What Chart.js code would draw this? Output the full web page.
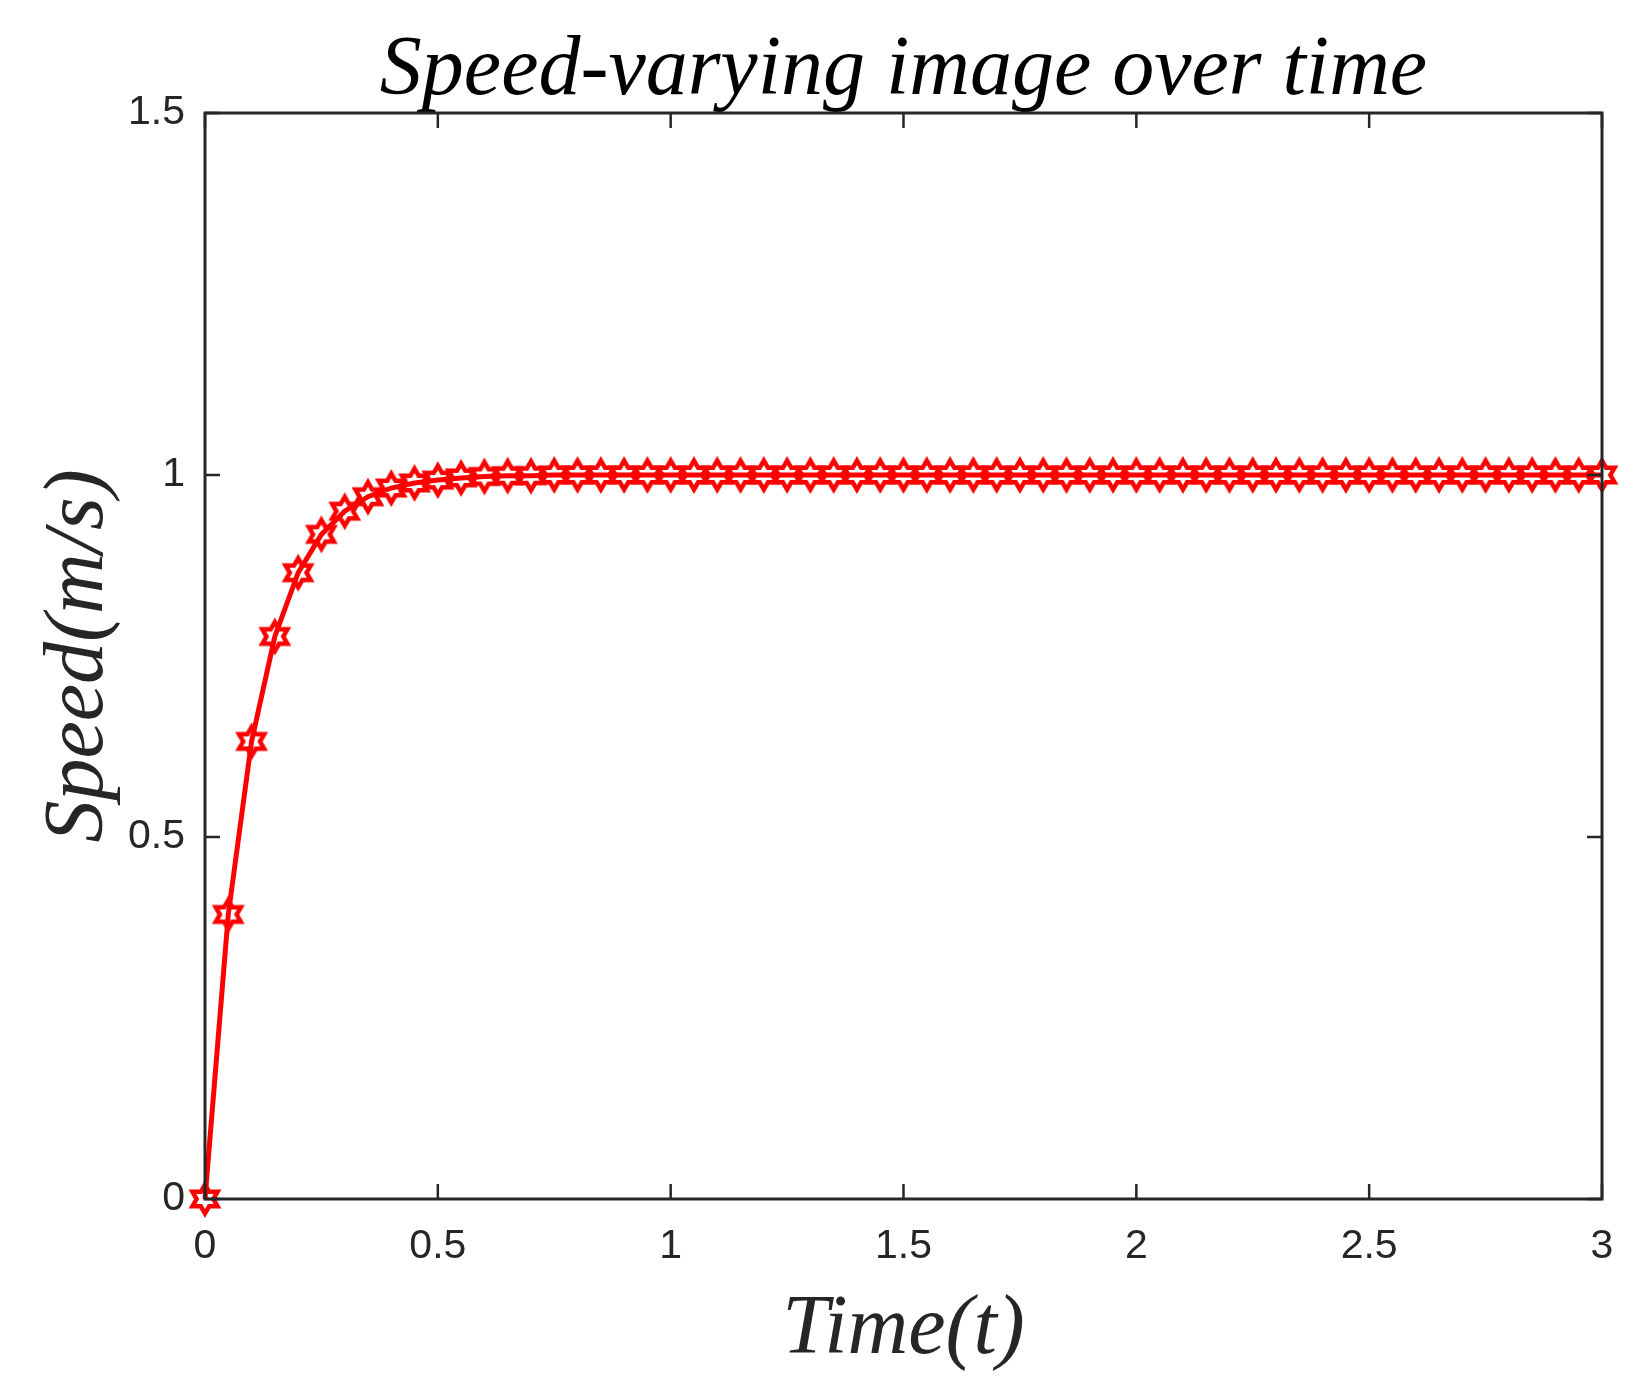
<!DOCTYPE html>
<html>
<head>
<meta charset="utf-8">
<title>Speed-varying image over time</title>
<script src="https://cdn.jsdelivr.net/npm/chart.js@4/dist/chart.umd.min.js"></script>
<style>
  html, body { margin: 0; padding: 0; background: #ffffff; }
  #chart { display: block; }
</style>
</head>
<body>
<canvas id="chart" width="1650" height="1392"></canvas>
<script>
const timeValues = [
  0, 0.05, 0.1, 0.15, 0.2, 0.25, 0.3, 0.35, 0.4, 0.45,
  0.5, 0.55, 0.6, 0.65, 0.7, 0.75, 0.8, 0.85, 0.9, 0.95,
  1, 1.05, 1.1, 1.15, 1.2, 1.25, 1.3, 1.35, 1.4, 1.45,
  1.5, 1.55, 1.6, 1.65, 1.7, 1.75, 1.8, 1.85, 1.9, 1.95,
  2, 2.05, 2.1, 2.15, 2.2, 2.25, 2.3, 2.35, 2.4, 2.45,
  2.5, 2.55, 2.6, 2.65, 2.7, 2.75, 2.8, 2.85, 2.9, 2.95,
  3
];
const speedValues = [
  0, 0.393, 0.632, 0.777, 0.865, 0.918, 0.950, 0.970, 0.982, 0.989,
  0.993, 0.996, 0.998, 0.999, 0.999, 1, 1, 1, 1, 1,
  1, 1, 1, 1, 1, 1, 1, 1, 1, 1,
  1, 1, 1, 1, 1, 1, 1, 1, 1, 1,
  1, 1, 1, 1, 1, 1, 1, 1, 1, 1,
  1, 1, 1, 1, 1, 1, 1, 1, 1, 1,
  1
];

// Axis ticks and their labels
const xTickValues = [0, 0.5, 1, 1.5, 2, 2.5, 3];
const xTickLabels = ['0', '0.5', '1', '1.5', '2', '2.5', '3'];
const yTickValues = [0, 0.5, 1, 1.5];
const yTickLabels = ['0', '0.5', '1', '1.5'];

// Text
const chartTitle = 'Speed-varying image over time';
const xAxisTitle = 'Time(t)';
const yAxisTitle = 'Speed(m/s)';

const axisColor = '#262626';
const lineColor = '#ff0000';
const tickFont = { family: '"Liberation Sans", Arial, Helvetica, sans-serif', size: 41, lineHeight: 1.2 };
const titleFont = { family: '"Liberation Serif", "Times New Roman", serif', size: 84, style: 'italic', lineHeight: 1 };

// Hexagram marker, drawn once and handed to Chart.js as a point style
function makeHexagram() {
  const c = document.createElement('canvas');
  c.width = 48;
  c.height = 48;
  const g = c.getContext('2d');
  const R = 14.5; // outer radius
  const r = R / Math.sqrt(3); // inner radius
  g.beginPath();
  for (let i = 0; i < 12; i++) {
    const ang = -Math.PI / 2 + i * Math.PI / 6;
    const rad = i % 2 === 0 ? R : r;
    const px = 24 + rad * Math.cos(ang);
    const py = 24 + rad * Math.sin(ang);
    if (i === 0) g.moveTo(px, py); else g.lineTo(px, py);
  }
  g.closePath();
  g.strokeStyle = lineColor;
  g.lineWidth = 4.5;
  g.lineJoin = 'miter';
  g.miterLimit = 10;
  g.stroke();
  return c;
}
const hexagram = makeHexagram();

// Box around the plot with inward ticks on all four sides (MATLAB style)
const boxPlugin = {
  id: 'boxPlugin',
  afterDatasetsDraw(chart) {
    const { ctx, chartArea: a, scales } = chart;
    const x = scales.x;
    const y = scales.y;
    const tickLen = 15;
    ctx.save();
    ctx.strokeStyle = axisColor;
    ctx.lineWidth = 3;
    ctx.strokeRect(a.left, a.top, a.right - a.left, a.bottom - a.top);
    ctx.lineWidth = 2.5;
    ctx.beginPath();
    xTickValues.forEach(v => {
      const px = x.getPixelForValue(v);
      ctx.moveTo(px, a.bottom);
      ctx.lineTo(px, a.bottom - tickLen);
      ctx.moveTo(px, a.top);
      ctx.lineTo(px, a.top + tickLen);
    });
    yTickValues.forEach(v => {
      const py = y.getPixelForValue(v);
      ctx.moveTo(a.left, py);
      ctx.lineTo(a.left + tickLen, py);
      ctx.moveTo(a.right, py);
      ctx.lineTo(a.right - tickLen, py);
    });
    ctx.stroke();
    ctx.restore();
  }
};

const points = timeValues.map((t, i) => ({ x: t, y: speedValues[i] }));

new Chart(document.getElementById('chart'), {
  type: 'line',
  data: {
    datasets: [{
      data: points,
      borderColor: lineColor,
      borderWidth: 5,
      pointStyle: hexagram,
      pointRadius: 18,
      pointHoverRadius: 18,
      tension: 0,
      fill: false,
      clip: false
    }]
  },
  options: {
    responsive: false,
    devicePixelRatio: 1,
    animation: false,
    layout: { padding: { left: 0, right: 48, top: 0, bottom: 0 } },
    plugins: {
      legend: { display: false },
      tooltip: { enabled: false }
    },
    scales: {
      x: {
        type: 'linear',
        position: 'bottom',
        min: 0,
        max: 3,
        afterBuildTicks: scale => { scale.ticks = xTickValues.map(v => ({ value: v })); },
        afterFit: scale => { scale.height = 193; },
        grid: { display: false, drawTicks: false },
        border: { display: false },
        ticks: {
          color: axisColor,
          font: tickFont,
          padding: 23,
          maxRotation: 0,
          callback: v => xTickLabels[xTickValues.indexOf(v)]
        },
        title: {
          display: true,
          text: xAxisTitle,
          color: axisColor,
          font: titleFont,
          padding: { top: 0, bottom: 19 }
        }
      },
      xTop: {
        type: 'linear',
        position: 'top',
        min: 0,
        max: 3,
        afterFit: scale => { scale.height = 113; },
        grid: { display: false, drawTicks: false },
        border: { display: false },
        ticks: { display: false },
        title: {
          display: true,
          text: chartTitle,
          color: '#000000',
          font: titleFont,
          padding: { top: 30, bottom: 0 }
        }
      },
      y: {
        type: 'linear',
        min: 0,
        max: 1.5,
        afterBuildTicks: scale => { scale.ticks = yTickValues.map(v => ({ value: v })); },
        afterFit: scale => { scale.width = 205; },
        grid: { display: false, drawTicks: false },
        border: { display: false },
        ticks: {
          color: axisColor,
          font: tickFont,
          padding: 20,
          callback: v => yTickLabels[yTickValues.indexOf(v)]
        },
        title: {
          display: true,
          text: yAxisTitle,
          color: axisColor,
          font: titleFont,
          padding: { top: 38, bottom: 0 }
        }
      }
    }
  },
  plugins: [boxPlugin]
});
</script>
</body>
</html>
